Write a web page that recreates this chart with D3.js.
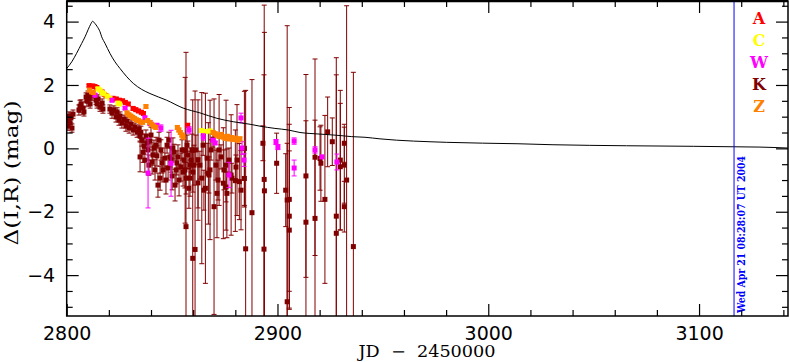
<!DOCTYPE html>
<html>
<head>
<meta charset="utf-8">
<script src="https://cdn.jsdelivr.net/npm/d3@7"></script>
<style>
body { margin: 0; background: #fff; }
</style>
</head>
<body>
<script>
// values: [JD-2450000, mag, error]
var seriesNames = ["A", "C", "W", "K", "Z"];
var seriesColors = ["#ff0000", "#ffff00", "#ff00ff", "#800000", "#ff8000"];

var kData = [
  [2800.1,0.89,0.13],[2800.6,0.70,0.13],[2801.1,1.02,0.13],[2801.6,0.80,0.13],[2802.0,0.96,0.16],[2802.5,0.64,0.13],[2803.0,1.08,0.13],
  [2805.8,1.21,0.16],[2806.3,1.33,0.19],[2806.8,1.40,0.13],[2807.7,1.27,0.19],[2808.2,1.15,0.13],[2809.2,1.62,0.13],[2809.6,1.49,0.16],
  [2810.1,1.68,0.13],[2810.6,1.56,0.13],[2811.1,1.40,0.13],[2812.0,1.65,0.13],[2813.9,1.52,0.13],[2814.4,1.40,0.13],[2814.9,1.56,0.13],
  [2815.8,1.30,0.13],[2816.8,1.43,0.13],[2817.2,1.24,0.13],
  [2820.5,1.24,0.13],[2821.5,1.11,0.16],[2822.4,1.21,0.13],[2823.4,0.99,0.16],[2823.9,1.15,0.13],[2824.8,0.89,0.16],[2825.3,1.02,0.13],
  [2826.2,0.80,0.16],[2827.2,0.92,0.13],[2828.1,0.70,0.16],[2828.6,0.86,0.13],[2829.6,0.64,0.16],[2830.5,0.77,0.13],[2831.5,0.58,0.16],
  [2832.4,0.67,0.13],[2833.4,0.51,0.16],[2834.3,0.61,0.13],[2834.8,0.39,0.16],
  [2834.8,-0.27,0.47],[2835.7,0.26,0.19],[2836.7,0.07,0.25],[2837.6,0.39,0.19],[2838.6,-0.05,0.32],[2839.5,0.23,0.19],[2840.5,-0.43,0.38],
  [2841.4,0.01,0.25],[2841.9,-0.68,0.32],[2842.8,-0.24,0.32],[2843.8,0.26,0.25],[2844.3,-0.94,0.38],[2845.2,-0.46,0.32],[2847.6,0.10,0.25],
  [2848.1,-0.62,0.38],[2849.0,-0.27,0.32],[2850.0,-0.87,0.44],[2850.9,-0.12,0.25],[2851.4,-1.16,0.5],[2852.3,-0.46,0.38],[2854.7,-0.05,0.32],
  [2855.2,-0.75,0.44],[2855.7,-0.37,0.38],[2856.6,-0.94,0.5],[2857.1,0.10,0.32],[2858.0,-1.26,0.63],[2858.5,-0.53,0.44],
  [2835.2,0.51,0.19],[2836.2,-0.12,0.32],[2837.1,-0.37,0.38],[2838.1,0.17,0.25],[2839.0,-0.53,0.32],[2840.0,0.42,0.25],[2840.9,-0.21,0.32],
  [2842.4,0.10,0.25],[2843.3,-1.16,0.38],[2844.7,-0.05,0.32],[2845.7,-0.68,0.38],[2846.6,-0.31,0.32],[2847.1,-1.0,0.44],[2848.5,0.26,0.25],
  [2849.5,-0.37,0.38],[2850.4,0.01,0.32],[2851.9,-0.68,0.44],[2852.8,-0.27,0.38],[2853.3,-1.0,0.5],[2854.2,-0.59,0.44],[2856.1,-0.68,0.57],
  [2857.5,-0.21,0.44],[2858.5,-0.94,0.57],[2859.4,-0.05,0.5],[2860.4,-0.53,0.63],
  [2859.0,-0.37,0.38],[2859.9,-0.75,0.63],[2861.3,-0.05,0.47],[2862.3,-1.09,0.79],[2863.2,-0.53,0.44],[2864.7,0.10,0.32],[2865.1,-1.32,0.63],
  [2866.6,-0.31,0.47],[2867.5,-0.84,0.57],[2868.5,-0.05,0.32],[2869.4,0.29,0.25],[2870.8,-0.53,0.47],[2871.8,-1.0,0.63],[2873.2,-0.27,0.38],
  [2874.6,-0.68,0.63],[2875.6,-1.22,0.47],[2877.0,-0.37,0.38],[2878.4,-0.94,0.47],[2880.3,-0.59,0.38],
  [2862.3,-0.37,1.9],[2868.0,-0.68,2.2],[2872.3,-0.05,1.75],[2875.6,-0.53,2.05],[2878.0,-0.84,1.9],[2880.8,-0.37,1.75],[2882.7,-1.32,1.25],
  [2856.2,-0.06,2.3],[2856.6,-2.47,5.5],[2859.8,-3.47,5.0],[2860.9,-3.19,5.0],[2864.1,-0.94,2.7],[2865.8,-1.26,3.0],[2867.2,-0.79,1.6],
  [2869.9,-1.84,3.4],[2871.3,-1.42,1.4],[2874.3,-1.10,1.75],[2876.0,-1.42,1.4],[2880.0,-1.02,1.6],[2881.9,-1.05,1.2],[2884.3,0.0,1.8],
  [2884.3,-0.95,0.9],[2884.9,-3.17,5.0],[2887.9,-2.03,4.2],[2893.1,0.16,0.55],[2893.7,-0.98,5.5],[2893.8,-1.34,5.0],[2893.6,-3.18,5.5],
  [2899.6,-0.47,0.95],[2903.9,-1.32,1.15],[2904.6,-1.63,5.5],[2904.6,-4.84,5.0],[2905.6,-1.61,2.9],[2905.6,-2.14,2.9],[2905.6,-2.58,2.5],
  [2913.5,-0.87,3.2],[2913.5,-2.33,3.2],[2917.8,-0.28,3.1],[2917.8,-2.21,3.1],[2920.2,-0.32,1.0],[2920.6,-0.47,1.2],[2922.5,-1.61,2.65],
  [2923.8,0.52,1.1],[2926.0,0.21,0.75],[2927.9,-2.14,5.0],[2927.9,-2.68,5.0],[2929.8,-0.37,2.2],[2929.8,-0.58,2.0],[2931.7,-0.53,1.2],
  [2931.7,0.16,0.6],[2931.7,-1.84,0.8],[2932.8,-1.0,5.5],[2936.0,-3.1,5.5]
];

var aData = [
  [2810.6,1.98,0.04],[2811.5,1.96,0.04],[2812.4,1.97,0.04],[2813.4,1.95,0.04],[2814.3,1.92,0.04],[2816.8,1.78,0.04],[2817.8,1.70,0.04],
  [2818.7,1.66,0.04],[2822.0,1.58,0.04],[2823.5,1.56,0.04],[2825.0,1.52,0.04],[2826.5,1.50,0.05],[2827.8,1.45,0.05],[2829.2,1.40,0.05],
  [2831.5,1.26,0.05],[2832.8,1.22,0.05],[2834.0,1.18,0.05],[2835.4,1.14,0.05],[2836.4,1.10,0.05],[2857.4,0.73,0.05]
];

var cData = [
  [2814.8,1.88,0.04],[2815.8,1.84,0.04],[2816.8,1.76,0.04],[2817.7,1.72,0.04],[2819.2,1.65,0.04],[2820.5,1.58,0.04],
  [2824.3,1.43,0.04],[2825.1,1.40,0.04],[2864.0,0.56,0.05],[2866.0,0.53,0.05],[2868.0,0.55,0.05]
];

var wData = [
  [2813.4,1.68,0.05],[2821.5,1.52,0.05],[2827.7,1.27,0.05],[2837.1,0.96,0.06],[2839.5,0.80,0.08],[2838.6,-0.78,1.1],[2842.8,0.73,0.05],
  [2844.7,0.64,0.1],[2849.5,-0.47,1.04],[2858.1,0.58,0.1],[2864.8,0.36,0.1],[2869.4,0.26,0.05],[2870.4,0.17,0.05],[2877.0,-0.84,0.4],
  [2882.7,0.96,0.15],[2883.2,0.01,0.2],[2884.1,-0.37,0.2],[2899.3,0.20,0.08],[2900.2,0.04,0.08],[2907.9,0.23,0.1],[2907.9,-0.62,0.25],
  [2917.8,-0.05,0.1],[2921.1,-0.27,0.05],[2928.2,-0.43,0.25]
];

var zData = [
  [2810.8,1.84,0.04],[2811.8,1.78,0.04],[2812.6,1.76,0.04],
  [2828.6,1.12,0.05],[2829.5,1.06,0.05],[2830.4,1.02,0.05],[2831.3,0.98,0.05],[2832.2,0.94,0.05],[2833.1,0.90,0.05],[2834.0,0.88,0.05],
  [2835.0,0.84,0.05],[2836.0,0.82,0.05],[2837.6,1.32,0.05],
  [2838.4,0.88,0.05],[2839.4,0.82,0.06],[2840.3,0.76,0.06],[2841.3,0.70,0.06],[2842.3,0.66,0.06],
  [2852.5,0.66,0.06],[2853.2,0.58,0.06],[2853.9,0.50,0.06],[2854.6,0.42,0.06],[2855.2,0.36,0.06],
  [2869.4,0.50,0.06],[2870.4,0.46,0.06],[2871.3,0.42,0.06],[2872.3,0.38,0.06],[2873.3,0.44,0.06],[2874.2,0.36,0.06],[2875.2,0.32,0.06],
  [2876.2,0.38,0.06],[2877.1,0.30,0.06],[2878.1,0.34,0.06],[2879.1,0.28,0.06],[2880.2,0.32,0.06],[2881.2,0.26,0.06],[2882.2,0.30,0.06]
];

// model curve
var curveJD = [2800, 2802.4, 2804.7, 2807.1, 2808.7, 2810.2, 2811.4, 2812.3, 2813.4, 2814.5, 2815.8, 2816.6, 2818.2, 2820.5,
  2822.9, 2825.3, 2828.5, 2831.6, 2835.6, 2839.5, 2847.4, 2855.3, 2863.2, 2871.2, 2879.0, 2887.0, 2891.7, 2898.8, 2905.1,
  2910.7, 2915.4, 2922.5, 2928.7, 2935.2, 2941.5, 2948.6, 2980.3, 3014.1, 3030.7, 3065.6, 3128.9, 3142.2];
var curveMag = [2.52, 2.73, 3.00, 3.31, 3.52, 3.75, 3.92, 4.01, 3.94, 3.84, 3.68, 3.52, 3.31, 3.00,
  2.73, 2.52, 2.26, 2.05, 1.86, 1.73, 1.52, 1.27, 1.12, 0.95, 0.84, 0.76, 0.70, 0.63, 0.58,
  0.50, 0.47, 0.44, 0.41, 0.37, 0.35, 0.30, 0.19, 0.145, 0.114, 0.082, 0.04, 0.01];

var xMajor = [2800, 2900, 3000, 3100];
var xMinor = [2820, 2840, 2860, 2880, 2920, 2940, 2960, 2980, 3020, 3040, 3060, 3080, 3120, 3140];
var yMajor = [-4, -2, 0, 2, 4];
var yMinor = [-5, -4.5, -3.5, -3, -2.5, -1.5, -1, -0.5, 0.5, 1, 1.5, 2.5, 3, 3.5, 4.5];

var markJD = 3116.6;
var markLabel = "Wed Apr 21 08:28:07 UT 2004";

var width = 790, height = 362;
var pLeft = 66.7, pRight = 788, pTop = 1, pBottom = 316;

var svg = d3.select("body")
   .append("svg")
   .attr("width", width)
   .attr("height", height)
   .style("display", "block");

svg.append("rect").attr("width", width).attr("height", height).attr("fill", "#fff");

var x = d3.scaleLinear().domain([2800, 3142.2]).range([pLeft, pRight]),
    y = d3.scaleLinear().domain([-5.29, 4.65]).range([pBottom, pTop]);

svg.append("clipPath").attr("id", "clip")
  .append("rect")
    .attr("x", pLeft).attr("y", pTop)
    .attr("width", pRight - pLeft).attr("height", pBottom - pTop);

var plot = svg.append("g").attr("clip-path", "url(#clip)");

function drawSeries(data, color) {
  var g = plot.append("g");
  var pts = g.selectAll("g").data(data).enter().append("g");
  pts.append("line")
      .attr("x1", function(d) { return x(d[0]); })
      .attr("x2", function(d) { return x(d[0]); })
      .attr("y1", function(d) { return y(d[1] - d[2]); })
      .attr("y2", function(d) { return y(d[1] + d[2]); });
  pts.append("line")
      .attr("x1", function(d) { return x(d[0]) - 2.5; })
      .attr("x2", function(d) { return x(d[0]) + 2.5; })
      .attr("y1", function(d) { return y(d[1] - d[2]); })
      .attr("y2", function(d) { return y(d[1] - d[2]); });
  pts.append("line")
      .attr("x1", function(d) { return x(d[0]) - 2.5; })
      .attr("x2", function(d) { return x(d[0]) + 2.5; })
      .attr("y1", function(d) { return y(d[1] + d[2]); })
      .attr("y2", function(d) { return y(d[1] + d[2]); });
  pts.selectAll("line").attr("stroke", color).attr("stroke-width", 1);
  pts.append("rect")
      .attr("x", function(d) { return x(d[0]) - 2.5; })
      .attr("y", function(d) { return y(d[1]) - 2.5; })
      .attr("width", 5)
      .attr("height", 5)
      .attr("fill", color);
}

drawSeries(kData, seriesColors[3]);
drawSeries(aData, seriesColors[0]);
drawSeries(cData, seriesColors[1]);
drawSeries(wData, seriesColors[2]);
drawSeries(zData, seriesColors[4]);

var line = d3.line()
    .x(function(d, i) { return x(curveJD[i]); })
    .y(function(d, i) { return y(curveMag[i]); })
    .curve(d3.curveMonotoneX);

plot.append("path")
    .attr("d", line(curveJD))
    .attr("fill", "none")
    .attr("stroke", "#000")
    .attr("stroke-width", 1);

// time marker
plot.append("line")
    .attr("x1", x(markJD)).attr("x2", x(markJD))
    .attr("y1", pTop).attr("y2", pBottom)
    .attr("stroke", "#0000ff")
    .attr("stroke-width", 1);

svg.append("text")
    .attr("transform", "translate(" + (x(markJD) + 11) + "," + (pBottom - 3) + ") rotate(-90)")
    .attr("font-family", "DejaVu Serif")
    .attr("font-size", 11)
    .attr("font-weight", "bold")
    .attr("fill", "#0000ff")
    .attr("textLength", 157)
    .attr("lengthAdjust", "spacingAndGlyphs")
    .text(markLabel);

// axes, ticks on all four sides pointing in
function noDomain(g) { g.select(".domain").remove(); }

svg.append("g")
    .attr("transform", "translate(0," + pBottom + ")")
    .call(d3.axisBottom(x).tickValues(xMajor).tickSize(-12).tickPadding(11).tickFormat(d3.format("d")))
    .call(noDomain);
svg.append("g")
    .attr("transform", "translate(0," + pBottom + ")")
    .call(d3.axisBottom(x).tickValues(xMinor).tickSize(-6).tickFormat(""))
    .call(noDomain);
svg.append("g")
    .attr("transform", "translate(0," + pTop + ")")
    .call(d3.axisTop(x).tickValues(xMajor).tickSize(-12).tickFormat(""))
    .call(noDomain);
svg.append("g")
    .attr("transform", "translate(0," + pTop + ")")
    .call(d3.axisTop(x).tickValues(xMinor).tickSize(-6).tickFormat(""))
    .call(noDomain);
svg.append("g")
    .attr("transform", "translate(" + pLeft + ",0)")
    .call(d3.axisLeft(y).tickValues(yMajor).tickSize(-12).tickPadding(11.5))
    .call(noDomain);
svg.append("g")
    .attr("transform", "translate(" + pLeft + ",0)")
    .call(d3.axisLeft(y).tickValues(yMinor).tickSize(-6).tickFormat(""))
    .call(noDomain);
svg.append("g")
    .attr("transform", "translate(" + pRight + ",0)")
    .call(d3.axisRight(y).tickValues(yMajor).tickSize(-12).tickFormat(""))
    .call(noDomain);
svg.append("g")
    .attr("transform", "translate(" + pRight + ",0)")
    .call(d3.axisRight(y).tickValues(yMinor).tickSize(-6).tickFormat(""))
    .call(noDomain);

svg.selectAll(".tick line").attr("stroke", "#000").attr("stroke-width", 1.2);
svg.selectAll(".tick text")
    .attr("font-family", "DejaVu Sans")
    .attr("font-size", 19)
    .attr("fill", "#000");

svg.append("rect")
    .attr("x", pLeft).attr("y", pTop)
    .attr("width", pRight - pLeft).attr("height", pBottom - pTop)
    .attr("fill", "none")
    .attr("stroke", "#000")
    .attr("stroke-width", 1.5);
svg.append("line")
    .attr("x1", pLeft).attr("x2", pRight).attr("y1", 1).attr("y2", 1)
    .attr("stroke", "#000").attr("stroke-width", 2.5);

// axis titles
svg.append("text")
    .attr("x", 427)
    .attr("y", 357)
    .attr("text-anchor", "middle")
    .attr("font-family", "DejaVu Serif")
    .attr("font-size", 16)
    .attr("textLength", 137)
    .attr("lengthAdjust", "spacingAndGlyphs")
    .text("JD\u00a0\u00a0\u2212\u00a0\u00a02450000");

svg.append("text")
    .attr("transform", "translate(18,173) rotate(-90)")
    .attr("text-anchor", "middle")
    .attr("font-family", "DejaVu Serif")
    .attr("font-size", 19)
    .attr("textLength", 145)
    .attr("lengthAdjust", "spacingAndGlyphs")
    .text("\u0394(I,R)\u00a0(mag)");

// legend
svg.selectAll(".legend")
    .data(seriesNames)
    .enter().append("text")
    .attr("class", "legend")
    .attr("x", 759)
    .attr("y", function(d, i) { return 24 + i * 22; })
    .attr("text-anchor", "middle")
    .attr("font-family", "DejaVu Serif")
    .attr("font-weight", "bold")
    .attr("font-size", 16)
    .attr("fill", function(d, i) { return seriesColors[i]; })
    .text(function(d) { return d; });
</script>
</body>
</html>
